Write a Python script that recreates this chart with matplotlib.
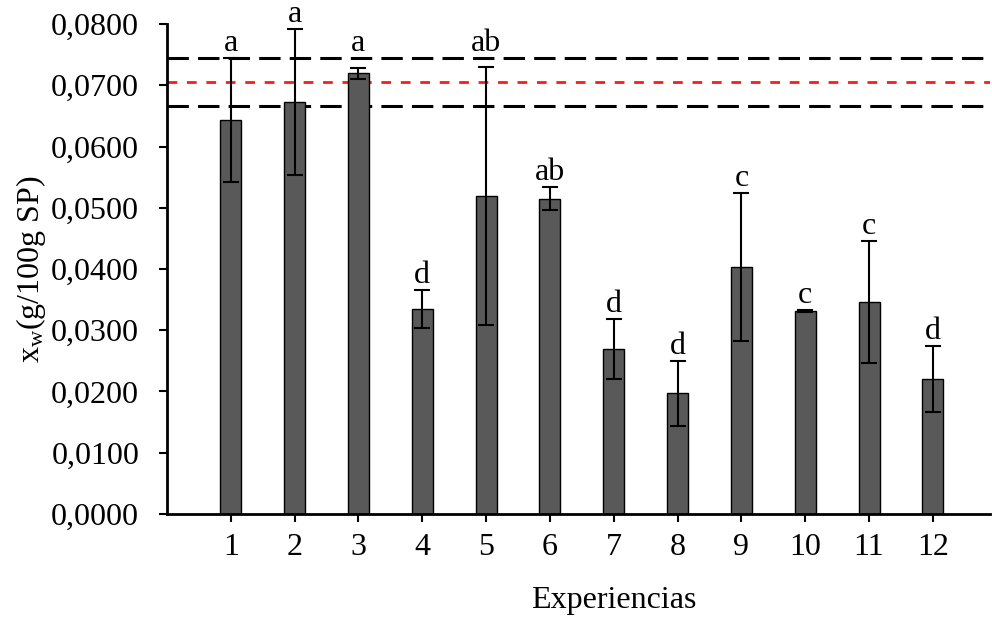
import matplotlib
matplotlib.use("Agg")
import matplotlib.pyplot as plt
from matplotlib.ticker import FuncFormatter

plt.rcParams["font.family"] = ["Liberation Serif", "DejaVu Serif"]
plt.rcParams["mathtext.fontset"] = "custom"
plt.rcParams["mathtext.rm"] = "Liberation Serif"
plt.rcParams["mathtext.it"] = "Liberation Serif:italic"

experiences = [1, 2, 3, 4, 5, 6, 7, 8, 9, 10, 11, 12]
xw_mean = [0.0643, 0.0673, 0.0720, 0.0335, 0.0519, 0.0515, 0.0269, 0.0197, 0.0403, 0.0331, 0.0346, 0.0220]
xw_err = [0.0101, 0.0119, 0.0009, 0.0031, 0.0211, 0.0019, 0.0049, 0.0053, 0.0121, 0.0002, 0.0099, 0.0054]
letters = ["a", "a", "a", "d", "ab", "ab", "d", "d", "c", "c", "c", "d"]
ref_mean = 0.0706
ref_low = 0.0666
ref_high = 0.0745

FS = 23

fig = plt.figure(figsize=(9.92, 6.17), dpi=100)
ax = fig.add_axes([0.1683, 0.167, 0.830, 0.794])

ax.bar(experiences, xw_mean, width=0.33, color="#595959", edgecolor="black",
       linewidth=1.0, zorder=2)
ax.errorbar(experiences, xw_mean, yerr=xw_err, fmt="none", ecolor="black",
            elinewidth=1.5, capsize=5.5, capthick=1.5, zorder=3)

# letters sit above the error bar, or above the upper band line if they would cross it
for x, m, e, t in zip(experiences, xw_mean, xw_err, letters):
    top = m + e
    if ref_low < top < ref_high:
        top = ref_high
    ax.text(x, top, t, ha="center", va="bottom", fontsize=FS, zorder=4)

ax.axhline(ref_high, color="black", linestyle=(0, (7, 3)), linewidth=2.2, zorder=1)
ax.axhline(ref_low, color="black", linestyle=(0, (7, 3)), linewidth=2.2, zorder=1)
ax.axhline(ref_mean, color="#ff1a1a", linestyle=(0, (3.5, 3.5)), linewidth=2.0, zorder=1)

ax.set_xlim(0, 12.9)
ax.set_ylim(0, 0.08)
ax.set_xticks(experiences)
ax.set_yticks([i * 0.01 for i in range(9)])
ax.yaxis.set_major_formatter(FuncFormatter(lambda v, p: f"{v:.4f}".replace(".", ",")))
ax.tick_params(axis="both", labelsize=FS, width=1.5, length=6, direction="out")
ax.tick_params(axis="y", pad=14)
ax.tick_params(axis="x", pad=8)

for s in ["top", "right"]:
    ax.spines[s].set_visible(False)
ax.spines["left"].set_linewidth(2)
ax.spines["bottom"].set_linewidth(2)

ax.set_xlabel("Experiencias", fontsize=FS, labelpad=10)
ax.xaxis.set_label_coords(0.543, -0.148)
ax.set_ylabel(r"x$_\mathrm{w}$(g/100g SP)", fontsize=FS, labelpad=2)

fig.savefig("out.png", dpi=100)
